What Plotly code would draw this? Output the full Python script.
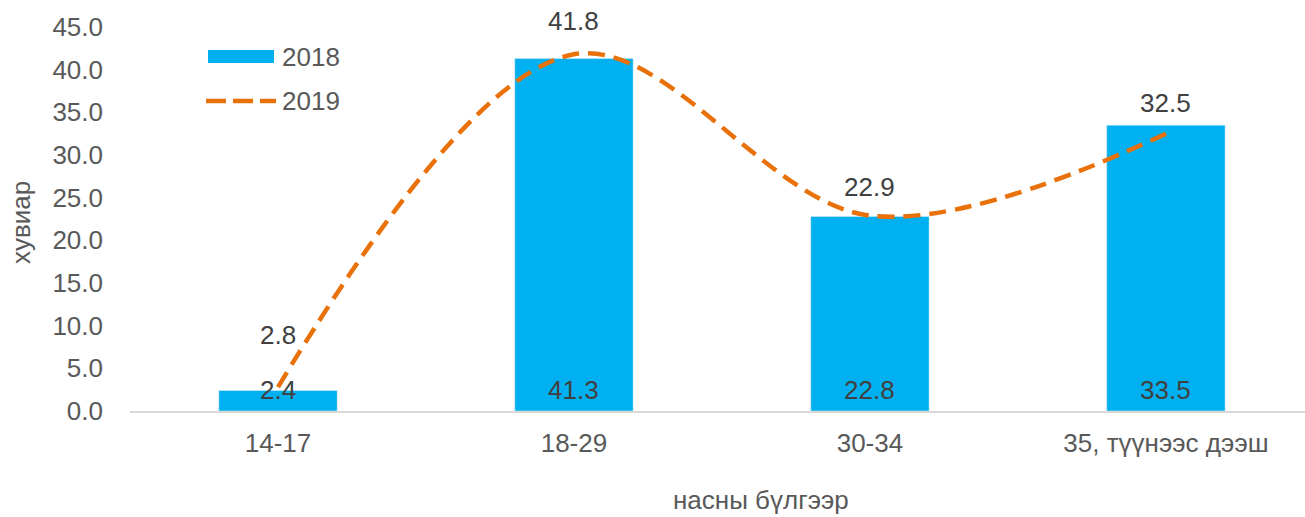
import plotly.graph_objects as go

categories = ["14-17", "18-29", "30-34", "35, түүнээс дээш"]
values_2018 = [2.4, 41.3, 22.8, 33.5]
values_2019 = [2.8, 41.8, 22.9, 32.5]
yticks = [0, 5, 10, 15, 20, 25, 30, 35, 40, 45]

FONT = "Liberation Sans, Arial, sans-serif"
GREY = "#595959"
DARK = "#404040"
BLUE = "#00B0F0"
ORANGE = "#E8710A"
FS = 26
DASH = "17px,9px"

W, H = 1305, 517
L, R, T, B = 130, 0, 27, 106
pw, ph = W - L - R, H - T - B


def px(x):
    return (x - L) / pw


def py(y):
    return (H - B - y) / ph


xs = list(range(len(categories)))

fig = go.Figure()
fig.add_trace(go.Bar(x=xs, y=values_2018, name="2018", marker_color=BLUE,
                     width=0.4, hoverinfo="skip", showlegend=False))
fig.add_trace(go.Scatter(x=xs, y=values_2019, name="2019", mode="lines",
                         line=dict(color=ORANGE, width=4.5, dash=DASH, shape="spline", smoothing=1.0),
                         hoverinfo="skip", showlegend=False))

ann = []
for i, v in enumerate(values_2018):
    ann.append(dict(x=i, y=0, text=f"{v:.1f}", showarrow=False, yanchor="middle", yshift=21,
                    font=dict(family=FONT, size=FS, color=DARK)))
shifts_2019 = [52, 33, 29, 31]
for i, v in enumerate(values_2019):
    ann.append(dict(x=i, y=v, text=f"{v:.1f}", showarrow=False, yanchor="middle", yshift=shifts_2019[i],
                    font=dict(family=FONT, size=FS, color=DARK)))

# axis titles
ann.append(dict(xref="paper", yref="paper", x=px(761), y=py(500), text="насны бүлгээр",
                showarrow=False, xanchor="center", yanchor="middle",
                font=dict(family=FONT, size=FS, color=GREY)))
ann.append(dict(xref="paper", yref="paper", x=px(21), y=py(222), text="хувиар", textangle=-90,
                showarrow=False, xanchor="center", yanchor="middle",
                font=dict(family=FONT, size=FS, color=GREY)))
# legend texts
ann.append(dict(xref="paper", yref="paper", x=px(280), y=py(57), text="2018", showarrow=False,
                xanchor="left", yanchor="middle", font=dict(family=FONT, size=FS, color=GREY)))
ann.append(dict(xref="paper", yref="paper", x=px(280), y=py(101), text="2019", showarrow=False,
                xanchor="left", yanchor="middle", font=dict(family=FONT, size=FS, color=GREY)))

shapes = [
    dict(type="rect", xref="paper", yref="paper", x0=px(208), x1=px(274), y0=py(63), y1=py(50),
         fillcolor=BLUE, line=dict(width=0)),
    dict(type="line", xref="paper", yref="paper", x0=px(206), x1=px(276), y0=py(101), y1=py(101),
         line=dict(color=ORANGE, width=4.5, dash="20px,7px")),
]

fig.update_layout(
    width=W, height=H,
    margin=dict(l=L, r=R, t=T, b=B, autoexpand=False),
    plot_bgcolor="white", paper_bgcolor="white",
    font=dict(family=FONT, size=FS, color=GREY),
    showlegend=False,
    xaxis=dict(range=[-0.5, 3.47], tickmode="array", tickvals=xs, ticktext=categories,
               showgrid=False, showline=True, linecolor="#D9D9D9", linewidth=1.5, ticks="",
               tickfont=dict(size=FS, color=GREY), zeroline=False, automargin=False,
               ticklabelstandoff=8),
    yaxis=dict(range=[0, 45], tickmode="array", tickvals=yticks,
               ticktext=[f"{t:.1f}" for t in yticks], showgrid=False, zeroline=False,
               showline=False, ticks="", ticklabelstandoff=26, automargin=False,
               tickfont=dict(size=FS, color=GREY)),
    annotations=ann,
    shapes=shapes,
)
fig.write_html("out.html", config={"displayModeBar": False},
               post_script="document.body.style.margin='0';document.body.style.overflow='hidden';")
